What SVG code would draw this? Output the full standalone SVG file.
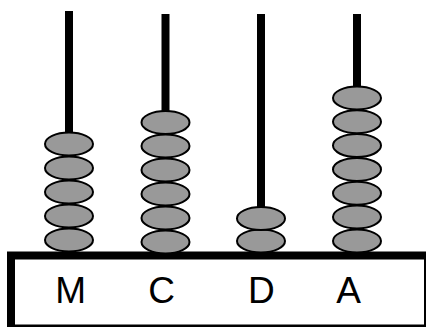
<svg xmlns="http://www.w3.org/2000/svg" width="426" height="327" viewBox="0 0 426 327">
<style>
.rod{fill:#000}
.bead{fill:#999999;stroke:#000;stroke-width:2}
.lbl{font-family:"Liberation Sans",Arial,sans-serif;font-size:37px;fill:#000;text-anchor:middle}
</style>
<rect width="426" height="327" fill="#fff"/>
<g id="rods">
<rect class="rod" x="65" y="11" width="8" height="242"/>
<rect class="rod" x="161.5" y="14" width="8" height="239"/>
<rect class="rod" x="257" y="14" width="8" height="239"/>
<rect class="rod" x="353" y="14" width="8" height="239"/>
</g>
<g id="frame">
<rect x="11" y="255.5" width="417" height="73" fill="#fff" stroke="#000" stroke-width="8"/>
</g>
<g id="beads-M">
<ellipse class="bead" cx="69" cy="240" rx="24" ry="11.5"/>
<ellipse class="bead" cx="69" cy="216" rx="24" ry="11.5"/>
<ellipse class="bead" cx="69" cy="192" rx="24" ry="11.5"/>
<ellipse class="bead" cx="69" cy="168" rx="24" ry="11.5"/>
<ellipse class="bead" cx="69" cy="144" rx="24" ry="11.5"/>
</g>
<g id="beads-C">
<ellipse class="bead" cx="165.5" cy="242" rx="24" ry="11.5"/>
<ellipse class="bead" cx="165.5" cy="218" rx="24" ry="11.5"/>
<ellipse class="bead" cx="165.5" cy="194" rx="24" ry="11.5"/>
<ellipse class="bead" cx="165.5" cy="170" rx="24" ry="11.5"/>
<ellipse class="bead" cx="165.5" cy="146" rx="24" ry="11.5"/>
<ellipse class="bead" cx="165.5" cy="122.5" rx="24" ry="11.5"/>
</g>
<g id="beads-D">
<ellipse class="bead" cx="261" cy="241" rx="24" ry="11.5"/>
<ellipse class="bead" cx="261" cy="218.5" rx="24" ry="11.5"/>
</g>
<g id="beads-A">
<ellipse class="bead" cx="357" cy="241" rx="24" ry="11.5"/>
<ellipse class="bead" cx="357" cy="217" rx="24" ry="11.5"/>
<ellipse class="bead" cx="357" cy="193.2" rx="24" ry="11.5"/>
<ellipse class="bead" cx="357" cy="169.4" rx="24" ry="11.5"/>
<ellipse class="bead" cx="357" cy="145.6" rx="24" ry="11.5"/>
<ellipse class="bead" cx="357" cy="121.8" rx="24" ry="11.5"/>
<ellipse class="bead" cx="357" cy="98" rx="24" ry="11.5"/>
</g>
<g id="labels">
<text class="lbl" x="70.7" y="302.5">M</text>
<text class="lbl" x="161.7" y="302.5">C</text>
<text class="lbl" x="261.3" y="302.5">D</text>
<text class="lbl" x="348.7" y="302.5">A</text>
</g>
</svg>
